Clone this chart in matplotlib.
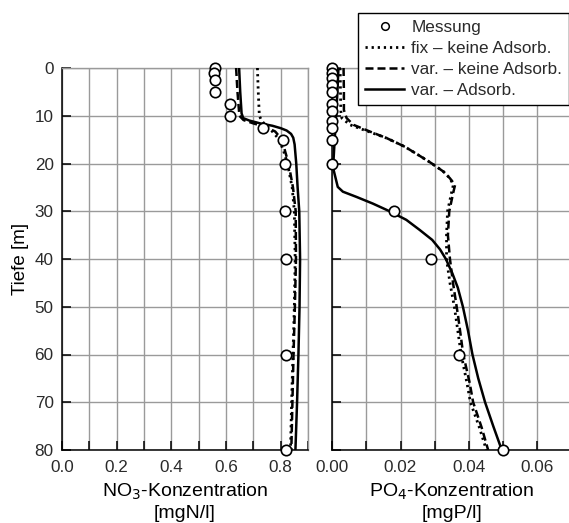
import matplotlib
matplotlib.use("Agg")
import matplotlib.pyplot as plt
from matplotlib.lines import Line2D

plt.rcParams['font.family'] = ['Liberation Sans', 'DejaVu Sans']
TXT = '#2a2a2a'
plt.rcParams['text.color'] = TXT
plt.rcParams['xtick.labelcolor'] = TXT
plt.rcParams['ytick.labelcolor'] = TXT

# ---------------- data ----------------
# NO3 measurements
no3_meas_depth = [0, 1, 2.5, 5, 7.5, 10, 12.5, 15, 20, 30, 40, 60, 80]
no3_meas = [0.56, 0.555, 0.56, 0.56, 0.615, 0.615, 0.735, 0.81, 0.815, 0.815, 0.82, 0.82, 0.82]

# NO3 model: fix - keine Adsorb. (dotted)
no3_fix_depth = [0, 5, 10, 11, 12, 13, 15, 17.6, 20, 25, 30, 40, 50, 60, 70, 80]
no3_fix = [0.715, 0.718, 0.722, 0.73, 0.745, 0.765, 0.795, 0.812, 0.825, 0.842, 0.85, 0.853,
           0.85, 0.845, 0.84, 0.836]

# NO3 model: var. - keine Adsorb. (dashed)
no3_var_depth = [0, 5, 10, 10.9, 11.6, 12.3, 13.3, 15, 17.6, 20, 25, 30, 40, 50, 60, 70, 80]
no3_var = [0.637, 0.642, 0.649, 0.664, 0.70, 0.743, 0.78, 0.805, 0.817, 0.829, 0.845, 0.855,
           0.856, 0.852, 0.847, 0.843, 0.839]

# NO3 model: var. - Adsorb. (solid)
no3_ads_depth = [0, 5, 9.5, 10.5, 11.0, 11.6, 12.1, 12.6, 13.1, 13.8, 14.6, 16, 18, 20, 25, 30,
                 40, 50, 60, 70, 80]
no3_ads = [0.648, 0.652, 0.657, 0.663, 0.685, 0.725, 0.77, 0.80, 0.822, 0.838, 0.846, 0.851,
           0.854, 0.857, 0.862, 0.868, 0.871, 0.869, 0.865, 0.860, 0.854]

# PO4 measurements
po4_meas_depth = [0, 1, 2, 3.5, 5, 7.5, 9, 11, 12.5, 15, 20, 30, 40, 60, 80]
po4_meas = [0, 0, 0, 0, 0, 0, 0, 0, 0, 0, 0, 0.0180, 0.0290, 0.0371, 0.0500]

# PO4 model: fix - keine Adsorb. (dotted)
po4_fix_depth = [0, 5, 9, 10.5, 11.9, 12.9, 14.7, 16.5, 18.2, 20, 21.7, 23.1, 24.5, 26, 30, 35,
                 40, 45, 50, 55, 60, 66, 70, 75, 80]
po4_fix = [0.0023, 0.0024, 0.0025, 0.0028, 0.0052, 0.009, 0.016, 0.0213, 0.0252, 0.0292, 0.0326,
           0.0345, 0.0355, 0.035, 0.0338, 0.0335, 0.0335, 0.0345, 0.0358, 0.0368, 0.0378, 0.0395,
           0.0405, 0.043, 0.0452]

# PO4 model: var. - keine Adsorb. (dashed)
po4_var_depth = [0, 5, 8.8, 10.5, 11.9, 13.3, 14.7, 16.5, 18.2, 20, 21.7, 23.1, 24.5, 26, 30, 35,
                 40, 45, 52, 60, 66, 70, 75.3, 80]
po4_var = [0.0033, 0.0034, 0.0034, 0.0042, 0.0062, 0.011, 0.016, 0.0213, 0.0252, 0.0292, 0.0326,
           0.0345, 0.036, 0.0355, 0.0343, 0.0339, 0.0345, 0.0354, 0.0369, 0.0384, 0.0403, 0.0413,
           0.0438, 0.0457]

# PO4 model: var. - Adsorb. (solid)
po4_ads_depth = [0, 5, 10, 15, 20, 21.4, 24.9, 25.9, 27, 28.4, 30, 31.8, 33.9, 36, 38, 40, 43,
                 46, 50, 55, 60, 65, 70, 75, 80]
po4_ads = [0.0018, 0.0015, 0.0011, 0.0007, 0.0003, 0.0004, 0.0016, 0.0031, 0.0071, 0.0119, 0.0168,
           0.0217, 0.0256, 0.0293, 0.0316, 0.0333, 0.0352, 0.0368, 0.0383, 0.0398, 0.0411, 0.0428,
           0.0448, 0.0472, 0.0497]

legend_labels = ['Messung', 'fix – keine Adsorb.', 'var. – keine Adsorb.', 'var. – Adsorb.']
no3_ticks = [0.0, 0.2, 0.4, 0.6, 0.8]
po4_ticks = [0.00, 0.02, 0.04, 0.06]
depth_ticks = [0, 10, 20, 30, 40, 50, 60, 70, 80]

# ---------------- figure ----------------
W, H = 569, 523
fig = plt.figure(figsize=(W / 100, H / 100), dpi=100)

ax1 = fig.add_axes([62 / W, (H - 450) / H, 246 / W, 382 / H])
ax2 = fig.add_axes([332.3 / W, (H - 450) / H, 238.7 / W, 382 / H])

GRID = '#9a9a9a'
dotted = (0, (0.8, 1.4))
dashed = (0, (3.2, 1.6))
LW = 1.8


def style(ax, xlim, major, minor, labels_fmt, show_ylabels):
    ax.set_xlim(*xlim)
    ax.set_ylim(80, 0)
    ax.set_xticks(minor)
    ax.set_xticklabels([labels_fmt.format(v) if any(abs(v - m) < 1e-9 for m in major) else ''
                        for v in minor])
    ax.set_yticks(depth_ticks)
    if show_ylabels:
        ax.set_yticklabels([str(d) for d in depth_ticks])
    else:
        ax.set_yticklabels([])
    ax.grid(True, color=GRID, lw=1.0, zorder=0)
    ax.set_axisbelow(True)
    for s in ['top', 'right']:
        ax.spines[s].set_color(GRID)
        ax.spines[s].set_linewidth(1.0)
    for s in ['left', 'bottom']:
        ax.spines[s].set_color('black')
        ax.spines[s].set_linewidth(1.1)
    ax.tick_params(axis='both', direction='in', length=6.5, width=1.1, color='black',
                   labelsize=12.3, top=False, right=False)
    ax.tick_params(axis='x', pad=7)
    ax.tick_params(axis='y', pad=6)


style(ax1, (0, 0.9), no3_ticks, [i / 10 for i in range(10)], '{:.1f}', True)
style(ax2, (0, 0.07), po4_ticks, [i / 100 for i in range(8)], '{:.2f}', False)

mk = dict(marker='o', ms=7.5, mfc='white', mec='black', mew=1.2, ls='none', zorder=5,
          clip_on=False)

ax1.plot(no3_fix, no3_fix_depth, color='black', ls=dotted, lw=2.0, zorder=3)
ax1.plot(no3_var, no3_var_depth, color='black', ls=dashed, lw=LW, zorder=3)
ax1.plot(no3_ads, no3_ads_depth, color='black', ls='-', lw=LW, zorder=4)
ax1.plot(no3_meas, no3_meas_depth, **mk)

ax2.plot(po4_fix, po4_fix_depth, color='black', ls=dotted, lw=2.0, zorder=3)
ax2.plot(po4_var, po4_var_depth, color='black', ls=dashed, lw=LW, zorder=3)
ax2.plot(po4_ads, po4_ads_depth, color='black', ls='-', lw=LW, zorder=4)
ax2.plot(po4_meas, po4_meas_depth, **mk)

ax1.set_ylabel('Tiefe [m]', fontsize=13.5, labelpad=4)
ax1.set_xlabel('NO$_3$-Konzentration\n[mgN/l]', fontsize=14, labelpad=5, linespacing=1.2)
ax2.set_xlabel('PO$_4$-Konzentration\n[mgP/l]', fontsize=14, labelpad=5, linespacing=1.2)

handles = [
    Line2D([], [], marker='o', ms=5.5, mfc='white', mec='black', mew=1.1, ls='none'),
    Line2D([], [], color='black', ls=dotted, lw=2.0),
    Line2D([], [], color='black', ls=dashed, lw=LW),
    Line2D([], [], color='black', ls='-', lw=LW),
]
leg = fig.legend(handles, legend_labels, loc='upper right', bbox_to_anchor=(1.0, (H - 13) / H),
                 fontsize=12.3, frameon=True, fancybox=False, shadow=False, borderaxespad=0,
                 handlelength=2.3, handletextpad=0.4, labelspacing=0.36, borderpad=0.4)
leg.get_frame().set_edgecolor('black')
leg.get_frame().set_linewidth(1.0)
leg.get_frame().set_alpha(1)

fig.savefig('out.png', dpi=100)
